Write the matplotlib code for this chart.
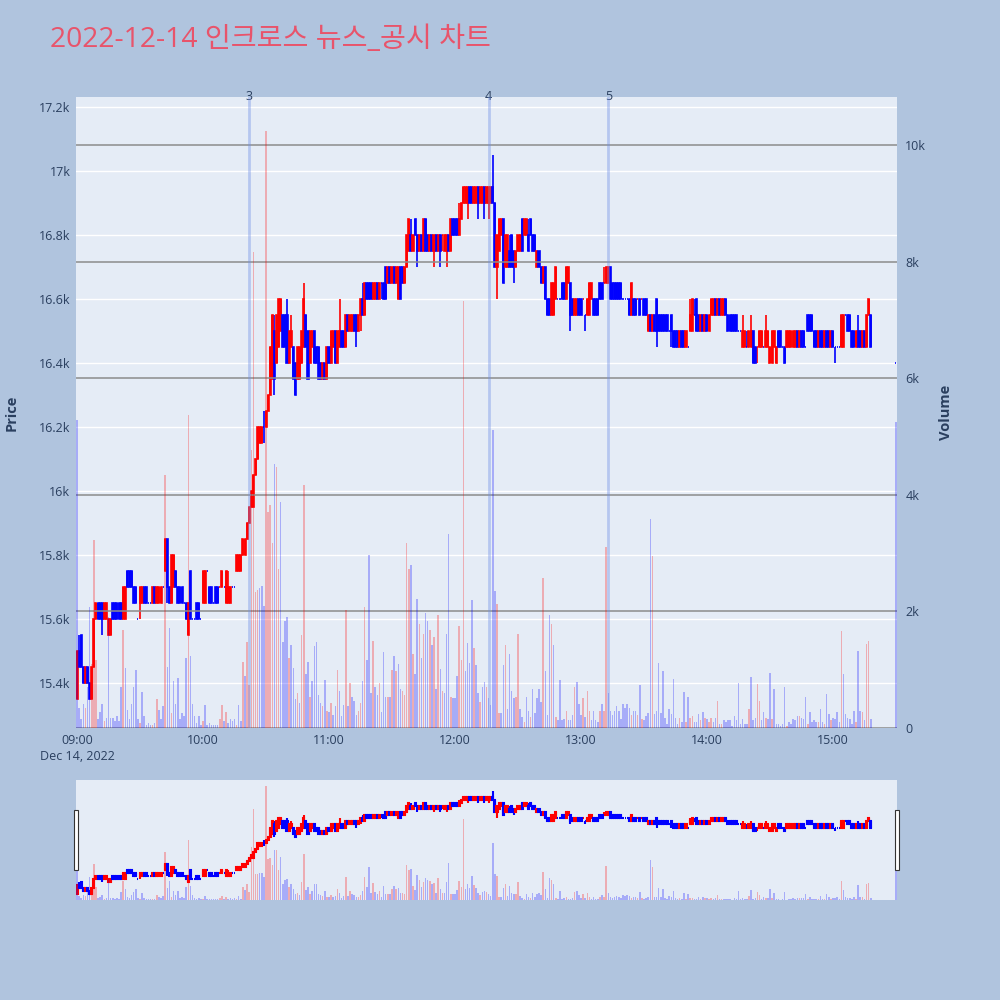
import matplotlib
matplotlib.use('Agg')
import matplotlib.pyplot as plt
import matplotlib.dates as mdates
from matplotlib.patches import Rectangle
from matplotlib.transforms import blended_transform_factory
import numpy as np
import pandas as pd

plt.rcParams['font.family'] = ['Open Sans', 'Noto Sans CJK KR', 'DejaVu Sans']

TITLE = '2022-12-14 인크로스 뉴스_공시 차트'
session_open = '2022-12-14 09:00'
closing_auction = '2022-12-14 15:30'

# one candle per minute from 09:00 to 15:18, then the 15:30 closing auction
opens = [
    15350, 15500, 15550, 15450, 15400, 15450, 15400, 15350, 15450, 15600,
    15650, 15650, 15650, 15600, 15600, 15550, 15550, 15650, 15650, 15650,
    15650, 15650, 15600, 15600, 15750, 15750, 15750, 15700, 15700, 15600,
    15650, 15650, 15700, 15700, 15650, 15650, 15650, 15700, 15650, 15650,
    15650, 15700, 15750, 15850, 15700, 15650, 15700, 15750, 15700, 15700,
    15700, 15650, 15650, 15550, 15750, 15600, 15600, 15650, 15650, 15600,
    15650, 15650, 15750, 15700, 15700, 15650, 15700, 15700, 15700, 15700,
    15700, 15650, 15650, 15650, 15700, 15700, 15750, 15750, 15750, 15800,
    15800, 15850, 15900, 15950, 15950, 16050, 16100, 16150, 16150, 16200,
    16200, 16250, 16300, 16350, 16500, 16400, 16450, 16500, 16550, 16550,
    16550, 16400, 16450, 16450, 16400, 16350, 16350, 16400, 16450, 16550,
    16500, 16400, 16450, 16500, 16450, 16450, 16400, 16350, 16400, 16350,
    16450, 16400, 16450, 16500, 16400, 16450, 16500, 16500, 16450, 16550,
    16500, 16500, 16550, 16550, 16500, 16550, 16600, 16550, 16650, 16650,
    16650, 16600, 16600, 16650, 16600, 16650, 16650, 16700, 16650, 16700,
    16650, 16700, 16650, 16600, 16700, 16700, 16650, 16700, 16750, 16800,
    16750, 16850, 16800, 16750, 16800, 16750, 16850, 16800, 16750, 16800,
    16750, 16800, 16750, 16800, 16800, 16750, 16750, 16800, 16750, 16850,
    16850, 16850, 16800, 16850, 16900, 16900, 16900, 16950, 16950, 16900,
    16900, 16950, 16900, 16900, 16950, 16900, 16900, 16900, 16950, 16900,
    16700, 16750, 16800, 16850, 16700, 16700, 16750, 16800, 16750, 16700,
    16750, 16750, 16850, 16800, 16800, 16800, 16850, 16800, 16800, 16700,
    16750, 16700, 16650, 16700, 16600, 16600, 16550, 16550, 16600, 16600,
    16600, 16650, 16650, 16600, 16650, 16650, 16600, 16550, 16550, 16600,
    16600, 16600, 16550, 16550, 16550, 16600, 16600, 16600, 16600, 16650,
    16650, 16650, 16650, 16650, 16700, 16650, 16650, 16650, 16650, 16650,
    16600, 16600, 16600, 16600, 16550, 16600, 16600, 16600, 16600, 16600,
    16600, 16600, 16500, 16550, 16500, 16550, 16600, 16550, 16550, 16550,
    16550, 16550, 16500, 16550, 16500, 16500, 16500, 16450, 16500, 16500,
    16450, 16450, 16500, 16500, 16550, 16600, 16550, 16500, 16550, 16500,
    16550, 16500, 16550, 16550, 16600, 16550, 16600, 16550, 16550, 16600,
    16550, 16550, 16550, 16550, 16550, 16500, 16500, 16450, 16450, 16450,
    16450, 16450, 16500, 16450, 16450, 16450, 16450, 16450, 16450, 16450,
    16400, 16400, 16450, 16400, 16500, 16500, 16450, 16450, 16450, 16450,
    16450, 16450, 16450, 16500, 16450, 16500, 16500, 16450, 16550, 16550,
    16550, 16500, 16500, 16450, 16500, 16500, 16450, 16500, 16500, 16450,
    16500, 16450, 16450, 16450, 16450, 16450, 16550, 16550, 16550, 16500,
    16500, 16450, 16500, 16500, 16450, 16500, 16450, 16550, 16550,
    16400,
]
highs = [
    15500, 15550, 15550, 15450, 15450, 15450, 15400, 15450, 15600, 15650,
    15650, 15650, 15650, 15650, 15650, 15600, 15600, 15650, 15650, 15650,
    15650, 15650, 15700, 15700, 15750, 15750, 15750, 15700, 15700, 15600,
    15700, 15700, 15700, 15700, 15650, 15650, 15700, 15700, 15700, 15700,
    15700, 15700, 15850, 15850, 15700, 15800, 15800, 15750, 15700, 15700,
    15700, 15650, 15650, 15650, 15750, 15600, 15600, 15650, 15650, 15600,
    15750, 15750, 15750, 15700, 15700, 15650, 15700, 15700, 15700, 15750,
    15700, 15750, 15750, 15700, 15700, 15700, 15800, 15800, 15800, 15850,
    15850, 15900, 15950, 16000, 16050, 16100, 16200, 16200, 16200, 16250,
    16250, 16300, 16450, 16550, 16550, 16550, 16600, 16600, 16550, 16550,
    16600, 16500, 16550, 16450, 16400, 16450, 16450, 16500, 16650, 16550,
    16500, 16500, 16500, 16500, 16450, 16450, 16400, 16400, 16400, 16450,
    16450, 16500, 16500, 16500, 16500, 16600, 16500, 16500, 16550, 16550,
    16550, 16550, 16550, 16550, 16550, 16600, 16650, 16650, 16650, 16650,
    16650, 16650, 16650, 16650, 16650, 16650, 16650, 16700, 16700, 16700,
    16700, 16700, 16700, 16700, 16700, 16700, 16700, 16800, 16850, 16850,
    16800, 16850, 16800, 16800, 16800, 16850, 16850, 16800, 16800, 16800,
    16800, 16800, 16800, 16800, 16800, 16800, 16800, 16800, 16850, 16850,
    16850, 16850, 16900, 16900, 16950, 16950, 16950, 16950, 16950, 16950,
    16950, 16950, 16950, 16950, 16950, 16950, 16950, 16950, 17050, 16900,
    16800, 16850, 16850, 16850, 16800, 16800, 16800, 16800, 16750, 16750,
    16800, 16800, 16850, 16850, 16850, 16850, 16850, 16800, 16800, 16750,
    16750, 16700, 16700, 16700, 16600, 16600, 16650, 16650, 16700, 16600,
    16600, 16650, 16650, 16700, 16700, 16650, 16600, 16600, 16600, 16600,
    16600, 16600, 16550, 16600, 16650, 16650, 16600, 16600, 16600, 16650,
    16650, 16700, 16700, 16700, 16700, 16650, 16650, 16650, 16650, 16650,
    16600, 16600, 16600, 16600, 16650, 16600, 16600, 16600, 16600, 16600,
    16600, 16600, 16550, 16550, 16550, 16550, 16600, 16550, 16550, 16550,
    16550, 16550, 16500, 16550, 16500, 16500, 16500, 16500, 16500, 16500,
    16500, 16450, 16600, 16600, 16600, 16600, 16550, 16550, 16550, 16550,
    16550, 16550, 16600, 16600, 16600, 16600, 16600, 16600, 16600, 16600,
    16550, 16550, 16550, 16550, 16550, 16500, 16500, 16550, 16500, 16500,
    16500, 16550, 16500, 16450, 16450, 16500, 16500, 16450, 16550, 16500,
    16450, 16500, 16500, 16450, 16500, 16500, 16450, 16450, 16500, 16500,
    16500, 16500, 16500, 16500, 16500, 16500, 16500, 16450, 16550, 16550,
    16550, 16500, 16500, 16500, 16500, 16500, 16500, 16500, 16500, 16500,
    16500, 16450, 16450, 16450, 16550, 16550, 16550, 16550, 16550, 16500,
    16500, 16500, 16550, 16500, 16500, 16500, 16550, 16600, 16550,
    16400,
]
lows = [
    15350, 15450, 15450, 15400, 15400, 15400, 15350, 15350, 15450, 15600,
    15600, 15600, 15550, 15600, 15600, 15550, 15550, 15600, 15600, 15600,
    15600, 15600, 15600, 15600, 15700, 15700, 15700, 15650, 15650, 15600,
    15600, 15650, 15650, 15650, 15650, 15650, 15650, 15650, 15650, 15650,
    15650, 15700, 15750, 15650, 15650, 15650, 15700, 15700, 15650, 15650,
    15650, 15650, 15600, 15550, 15600, 15600, 15600, 15600, 15600, 15600,
    15650, 15650, 15750, 15650, 15650, 15650, 15650, 15650, 15700, 15700,
    15700, 15650, 15650, 15650, 15700, 15700, 15750, 15750, 15750, 15800,
    15800, 15850, 15900, 15950, 15950, 16050, 16100, 16150, 16150, 16150,
    16200, 16250, 16300, 16350, 16300, 16400, 16450, 16500, 16450, 16450,
    16400, 16400, 16450, 16350, 16300, 16350, 16350, 16400, 16450, 16450,
    16350, 16400, 16450, 16400, 16400, 16350, 16350, 16350, 16350, 16350,
    16400, 16400, 16450, 16400, 16400, 16450, 16450, 16450, 16450, 16500,
    16500, 16500, 16500, 16450, 16500, 16500, 16550, 16550, 16600, 16600,
    16600, 16600, 16600, 16600, 16600, 16600, 16600, 16600, 16650, 16650,
    16650, 16650, 16650, 16600, 16600, 16650, 16650, 16700, 16750, 16750,
    16750, 16800, 16700, 16750, 16750, 16750, 16750, 16750, 16750, 16750,
    16700, 16750, 16750, 16700, 16750, 16750, 16700, 16750, 16750, 16800,
    16800, 16800, 16800, 16850, 16900, 16900, 16850, 16900, 16900, 16900,
    16900, 16850, 16900, 16900, 16850, 16900, 16850, 16900, 16900, 16700,
    16600, 16750, 16800, 16650, 16700, 16700, 16700, 16700, 16650, 16700,
    16750, 16750, 16750, 16800, 16800, 16750, 16800, 16750, 16750, 16700,
    16700, 16650, 16650, 16600, 16550, 16550, 16550, 16550, 16600, 16600,
    16600, 16600, 16600, 16600, 16650, 16500, 16550, 16550, 16550, 16550,
    16550, 16600, 16500, 16550, 16550, 16600, 16550, 16550, 16550, 16600,
    16600, 16650, 16650, 16650, 16600, 16600, 16600, 16600, 16600, 16600,
    16600, 16600, 16600, 16550, 16550, 16550, 16550, 16600, 16550, 16600,
    16550, 16550, 16500, 16500, 16500, 16500, 16450, 16500, 16500, 16500,
    16500, 16500, 16500, 16450, 16450, 16450, 16450, 16450, 16450, 16450,
    16450, 16450, 16500, 16500, 16550, 16500, 16500, 16500, 16500, 16500,
    16500, 16500, 16550, 16550, 16550, 16550, 16550, 16550, 16550, 16550,
    16500, 16500, 16500, 16500, 16500, 16500, 16500, 16450, 16450, 16450,
    16450, 16450, 16400, 16400, 16400, 16450, 16450, 16450, 16450, 16450,
    16400, 16400, 16450, 16400, 16450, 16450, 16450, 16400, 16450, 16450,
    16450, 16450, 16450, 16450, 16450, 16450, 16450, 16450, 16500, 16500,
    16500, 16450, 16450, 16450, 16450, 16450, 16450, 16450, 16450, 16450,
    16450, 16400, 16450, 16450, 16450, 16450, 16550, 16500, 16500, 16450,
    16450, 16450, 16450, 16450, 16450, 16450, 16450, 16550, 16450,
    16400,
]
closes = [
    15500, 15450, 15450, 15400, 15450, 15400, 15350, 15450, 15600, 15650,
    15600, 15600, 15600, 15650, 15650, 15600, 15600, 15600, 15600, 15600,
    15600, 15600, 15700, 15700, 15700, 15700, 15700, 15650, 15650, 15600,
    15700, 15700, 15650, 15650, 15650, 15650, 15700, 15650, 15700, 15700,
    15700, 15700, 15850, 15700, 15650, 15800, 15800, 15700, 15650, 15650,
    15650, 15650, 15600, 15650, 15600, 15600, 15600, 15600, 15600, 15600,
    15750, 15750, 15750, 15650, 15650, 15650, 15650, 15650, 15700, 15750,
    15700, 15750, 15700, 15700, 15700, 15700, 15800, 15800, 15800, 15850,
    15850, 15900, 15950, 16000, 16050, 16100, 16200, 16200, 16200, 16200,
    16250, 16300, 16450, 16550, 16350, 16550, 16600, 16600, 16450, 16450,
    16400, 16500, 16500, 16350, 16300, 16450, 16450, 16500, 16600, 16450,
    16350, 16500, 16500, 16400, 16400, 16350, 16350, 16400, 16350, 16450,
    16400, 16500, 16500, 16400, 16500, 16500, 16450, 16450, 16550, 16500,
    16550, 16550, 16500, 16500, 16550, 16600, 16550, 16650, 16600, 16600,
    16600, 16650, 16650, 16600, 16650, 16650, 16600, 16600, 16700, 16650,
    16700, 16650, 16700, 16700, 16600, 16650, 16700, 16800, 16850, 16750,
    16800, 16800, 16750, 16800, 16750, 16850, 16750, 16750, 16800, 16750,
    16800, 16750, 16800, 16750, 16800, 16800, 16800, 16750, 16850, 16800,
    16800, 16800, 16850, 16900, 16950, 16950, 16950, 16900, 16900, 16950,
    16950, 16900, 16950, 16950, 16900, 16950, 16950, 16950, 16900, 16700,
    16800, 16850, 16850, 16650, 16800, 16800, 16700, 16700, 16700, 16750,
    16800, 16800, 16750, 16850, 16850, 16750, 16800, 16750, 16750, 16750,
    16700, 16650, 16700, 16600, 16550, 16550, 16650, 16650, 16700, 16600,
    16600, 16600, 16600, 16700, 16700, 16550, 16550, 16600, 16600, 16550,
    16550, 16600, 16550, 16600, 16650, 16650, 16550, 16550, 16550, 16600,
    16600, 16650, 16700, 16700, 16600, 16600, 16600, 16600, 16600, 16600,
    16600, 16600, 16600, 16550, 16650, 16550, 16550, 16600, 16550, 16600,
    16550, 16550, 16550, 16500, 16550, 16500, 16500, 16500, 16500, 16500,
    16500, 16500, 16500, 16500, 16450, 16450, 16450, 16500, 16450, 16450,
    16500, 16450, 16550, 16600, 16550, 16500, 16500, 16550, 16500, 16550,
    16500, 16550, 16600, 16600, 16550, 16600, 16550, 16600, 16600, 16550,
    16500, 16500, 16500, 16500, 16500, 16500, 16500, 16500, 16500, 16450,
    16500, 16500, 16400, 16400, 16450, 16500, 16500, 16450, 16500, 16500,
    16450, 16500, 16500, 16450, 16450, 16450, 16450, 16400, 16500, 16500,
    16500, 16500, 16500, 16450, 16500, 16450, 16450, 16450, 16500, 16500,
    16500, 16450, 16450, 16500, 16450, 16450, 16500, 16450, 16450, 16500,
    16450, 16450, 16450, 16450, 16550, 16550, 16550, 16500, 16500, 16450,
    16450, 16500, 16450, 16450, 16500, 16450, 16550, 16600, 16450,
    16400,
]
volumes = [
    5280, 340, 150, 420, 340, 700, 2080, 1100, 3220, 1170,
    150, 280, 410, 120, 170, 1900, 170, 170, 120, 200,
    120, 700, 1680, 1030, 310, 150, 420, 700, 1000, 150,
    90, 620, 200, 50, 90, 60, 50, 90, 490, 310,
    150, 370, 4340, 1040, 1710, 250, 800, 420, 850, 150,
    250, 200, 1200, 5370, 1230, 420, 200, 90, 200, 50,
    120, 390, 50, 90, 60, 50, 50, 50, 150, 390,
    120, 280, 90, 150, 120, 150, 60, 390, 120, 1130,
    900, 1470, 730, 4770, 8170, 2330, 2370, 2400, 2430, 2100,
    10240, 3700, 3830, 3170, 4530, 4470, 2730, 3870, 1470, 1830,
    1900, 1200, 1430, 1030, 500, 600, 430, 1600, 4170, 930,
    1130, 530, 800, 1400, 1470, 570, 430, 370, 830, 300,
    270, 430, 230, 370, 1000, 630, 200, 400, 2030, 370,
    770, 530, 470, 230, 300, 430, 800, 2070, 1170, 2970,
    600, 1500, 700, 570, 770, 270, 1300, 530, 530, 530,
    1000, 1230, 970, 1100, 670, 630, 570, 3170, 2730, 2800,
    1270, 920, 2220, 1780, 1200, 1620, 1970, 1840, 1680, 1430,
    1560, 670, 1940, 1020, 640, 600, 1620, 3330, 540, 510,
    510, 890, 1750, 1170, 7330, 980, 1460, 1110, 2190, 1370,
    1080, 600, 440, 700, 790, 700, 510, 400, 5110, 2350,
    2130, 250, 250, 1080, 1430, 320, 1270, 640, 510, 540,
    1620, 320, 190, 100, 540, 290, 190, 670, 250, 510,
    670, 440, 2570, 980, 220, 1940, 1780, 1430, 190, 130,
    830, 130, 160, 290, 130, 130, 220, 700, 790, 410,
    220, 510, 190, 640, 290, 130, 290, 130, 100, 290,
    410, 290, 3110, 600, 290, 220, 290, 380, 290, 160,
    410, 350, 410, 350, 220, 290, 290, 220, 730, 160,
    130, 200, 250, 3580, 2950, 240, 300, 1120, 250, 980,
    180, 70, 330, 240, 840, 180, 70, 180, 100, 610,
    100, 530, 180, 210, 100, 100, 240, 130, 270, 180,
    150, 100, 180, 100, 180, 470, 70, 70, 130, 100,
    130, 130, 40, 210, 130, 780, 70, 150, 70, 70,
    330, 870, 130, 180, 750, 470, 130, 270, 180, 150,
    950, 150, 670, 70, 70, 40, 70, 700, 40, 100,
    70, 150, 130, 210, 210, 180, 150, 530, 70, 270,
    100, 130, 100, 100, 330, 100, 70, 580, 240, 130,
    180, 150, 270, 100, 1670, 920, 240, 180, 150, 70,
    300, 100, 1320, 300, 270, 130, 1440, 1500, 150,
    5240,
]

event_times = ['2022-12-14 10:22', '2022-12-14 12:16', '2022-12-14 13:13']
event_labels = ['3', '4', '5']

price_ticks = [15400, 15600, 15800, 16000, 16200, 16400, 16600, 16800, 17000, 17200]
volume_ticks = [0, 2000, 4000, 6000, 8000, 10000]
hour_ticks = ['09:00', '10:00', '11:00', '12:00', '13:00', '14:00', '15:00']

RED = '#FF0000'
BLUE = '#0000FF'
BG = '#B0C4DE'
PLOT_BG = '#E5ECF6'
TXT = '#2a3f5f'

o = np.array(opens, dtype=float)
h = np.array(highs, dtype=float)
l = np.array(lows, dtype=float)
c = np.array(closes, dtype=float)
v = np.array(volumes, dtype=float)

times = pd.date_range(session_open, periods=len(opens) - 1, freq='min')
times = times.append(pd.DatetimeIndex([closing_auction]))
t = mdates.date2num(times.to_pydatetime())
one_min = 1.0 / 1440

# candle direction: close vs open, ties decided by the previous close
candle_col = []
for i in range(len(c)):
    prev = c[i - 1] if i > 0 else c[i]
    if c[i] > o[i] or (c[i] == o[i] and c[i] > prev):
        candle_col.append(RED)
    else:
        candle_col.append(BLUE)
vol_col = [BLUE] + [RED if c[i] > c[i - 1] else BLUE for i in range(1, len(c))]

xmin = t[0] - 0.5 * one_min
xmax = t[-1] + 0.5 * one_min
p_lim = (15259, 17231)
v_lim = (0, 10823)


def draw_candles(ax, lw):
    ax.vlines(t, l, h, colors=candle_col, linewidth=lw, zorder=3)
    ax.bar(t, np.abs(c - o), bottom=np.minimum(o, c), width=0.5 * one_min,
           color=candle_col, edgecolor=candle_col, linewidth=lw, zorder=3)


def draw_volume(ax):
    ax.bar(t, v, width=0.72 * one_min, color=vol_col, alpha=0.27, linewidth=0, zorder=2)


fig = plt.figure(figsize=(10, 10), dpi=100, facecolor=BG)

ax = fig.add_axes([0.076, 0.272, 0.821, 0.631])
ax.set_facecolor(PLOT_BG)
draw_candles(ax, 1.2)
ax.set_xlim(xmin, xmax)
ax.set_ylim(*p_lim)
ax.set_yticks(price_ticks)
ax.set_yticklabels([f'{p / 1000:g}k' for p in price_ticks])
ax.yaxis.grid(True, color='white', linewidth=1)
ax.set_axisbelow(True)
for s in ax.spines.values():
    s.set_visible(False)

hour_pos = mdates.date2num(pd.to_datetime(['2022-12-14 ' + hh for hh in hour_ticks]).to_pydatetime())
ax.set_xticks(hour_pos)
ax.set_xticklabels([hour_ticks[0] + '\nDec 14, 2022'] + hour_ticks[1:], linespacing=1.3)
ax.tick_params(axis='both', length=0, labelsize=9, labelcolor=TXT, pad=4)

axv = ax.twinx()
draw_volume(axv)
axv.set_xlim(xmin, xmax)
axv.set_ylim(*v_lim)
axv.set_yticks(volume_ticks)
axv.set_yticklabels(['0'] + [f'{x // 1000}k' for x in volume_ticks[1:]])
axv.yaxis.grid(True, color='#8c8c8c', linewidth=1.1)
axv.tick_params(axis='y', length=0, labelsize=9, labelcolor=TXT, pad=6)
for s in axv.spines.values():
    s.set_visible(False)

# news / disclosure markers
ev_pos = mdates.date2num(pd.to_datetime(event_times).to_pydatetime())
trans = blended_transform_factory(ax.transData, ax.transAxes)
for x, lab in zip(ev_pos, event_labels):
    axv.axvline(x, color='#6f8fe6', alpha=0.4, linewidth=2, zorder=4)
    ax.text(x, 1.0, lab, transform=trans, ha='center', va='center',
            fontsize=9, color=TXT, zorder=5)

fig.text(0.012, 0.5875, 'Price', rotation=90, ha='center', va='center',
         fontsize=10.5, fontweight='bold', color=TXT)
fig.text(0.946, 0.5875, 'Volume', rotation=90, ha='center', va='center',
         fontsize=10.5, fontweight='bold', color=TXT)
fig.text(0.05, 0.960, TITLE, ha='left', va='center', fontsize=20.3, color='#E8546B')

# range slider
axs = fig.add_axes([0.076, 0.100, 0.821, 0.120])
axs.set_facecolor(PLOT_BG)
draw_candles(axs, 1.5)
axs.set_xlim(xmin, xmax)
axs.set_ylim(*p_lim)
axs.set_xticks([])
axs.set_yticks([])
for s in axs.spines.values():
    s.set_visible(False)
axsv = axs.twinx()
draw_volume(axsv)
axsv.set_xlim(xmin, xmax)
axsv.set_ylim(*v_lim)
axsv.set_yticks([])
for s in axsv.spines.values():
    s.set_visible(False)

for hx in (0.0735, 0.8945):
    fig.patches.append(Rectangle((hx, 0.130), 0.004, 0.060, transform=fig.transFigure,
                                 facecolor='white', edgecolor='#333333', linewidth=0.8))

fig.savefig('out.png', dpi=100, facecolor=fig.get_facecolor())
